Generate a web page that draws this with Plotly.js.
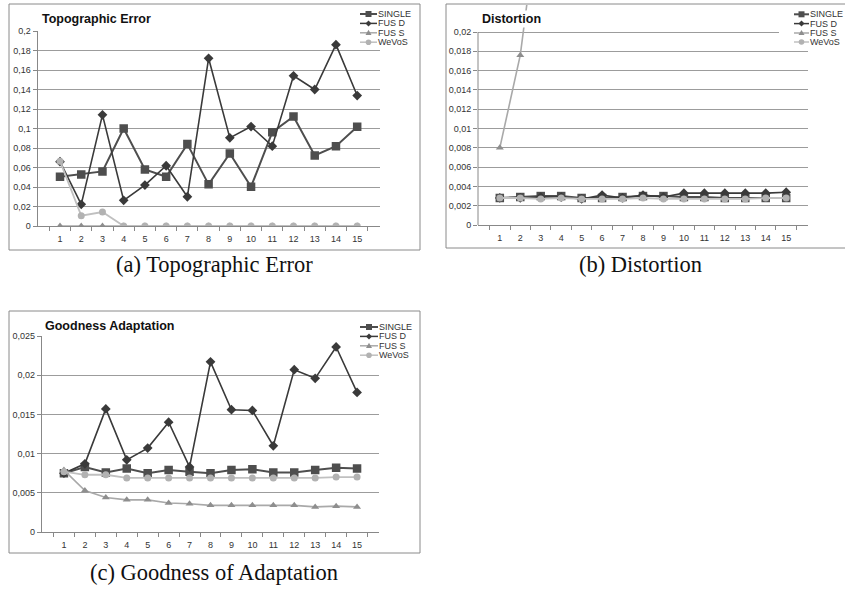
<!DOCTYPE html>
<html>
<head>
<meta charset="utf-8">
<script src="https://cdn.plot.ly/plotly-3.0.1.min.js"></script>
<style>html,body{margin:0;padding:0;background:#fff;}#chart{width:845px;height:591px;}</style>
</head>
<body>
<div id="chart"></div>
<script>
// ---------- DATA ----------
const CATS = ['1','2','3','4','5','6','7','8','9','10','11','12','13','14','15'];
const SERIES_NAMES = ['SINGLE', 'FUS D', 'FUS S', 'WeVoS'];

// (a) Topographic Error
const topo_single = [0.0505, 0.0529, 0.056, 0.100, 0.058, 0.0505, 0.084, 0.0427, 0.0744, 0.0403, 0.0962, 0.1123, 0.0724, 0.0819, 0.1017];
const topo_fusd   = [0.066, 0.0222, 0.114, 0.0263, 0.042, 0.0618, 0.030, 0.172, 0.0904, 0.102, 0.0819, 0.154, 0.140, 0.186, 0.1338];
const topo_fuss   = [0, 0, 0, 0, 0, 0, 0, 0, 0, 0, 0, 0, 0, 0, 0];
const topo_wevos  = [0.0665, 0.0106, 0.0143, 0, 0, 0, 0, 0, 0, 0, 0, 0, 0, 0, 0];

// (b) Distortion
const dist_single = [0.0028, 0.0029, 0.0030, 0.0030, 0.0028, 0.0028, 0.0029, 0.0030, 0.0030, 0.0029, 0.0029, 0.0028, 0.0028, 0.0028, 0.0028];
const dist_fusd   = [0.0028, 0.0028, 0.0029, 0.0029, 0.0027, 0.0031, 0.0028, 0.0031, 0.0029, 0.0033, 0.0033, 0.0033, 0.0033, 0.0033, 0.0034];
const dist_fuss   = [0.008, 0.0176, 0.034, null, null, null, null, null, null, null, null, null, null, null, null];
const dist_wevos  = [0.0028, 0.0028, 0.0027, 0.0028, 0.0027, 0.0027, 0.0027, 0.0028, 0.0027, 0.0027, 0.0027, 0.0027, 0.0027, 0.0028, 0.0028];

// (c) Goodness Adaptation
const good_single = [0.0075, 0.0083, 0.0076, 0.0081, 0.0075, 0.0079, 0.0077, 0.0075, 0.0079, 0.0080, 0.0076, 0.0076, 0.0079, 0.0082, 0.0081];
const good_fusd   = [0.0075, 0.0087, 0.0157, 0.0092, 0.0107, 0.0140, 0.0083, 0.0217, 0.0156, 0.0155, 0.0110, 0.0207, 0.0196, 0.0236, 0.0178];
const good_fuss   = [0.0079, 0.0053, 0.0044, 0.0041, 0.0041, 0.0037, 0.0036, 0.0034, 0.0034, 0.0034, 0.0034, 0.0034, 0.0032, 0.0033, 0.0032];
const good_wevos  = [0.0077, 0.0073, 0.0073, 0.0069, 0.0069, 0.0069, 0.0069, 0.0069, 0.0069, 0.0069, 0.0069, 0.0069, 0.0069, 0.0070, 0.0070];

// tick values / labels
const topo_tickvals = [0, 0.02, 0.04, 0.06, 0.08, 0.1, 0.12, 0.14, 0.16, 0.18, 0.2];
const topo_ticktext = ['0', '0,02', '0,04', '0,06', '0,08', '0,1', '0,12', '0,14', '0,16', '0,18', '0,2'];
const dist_tickvals = [0, 0.002, 0.004, 0.006, 0.008, 0.01, 0.012, 0.014, 0.016, 0.018, 0.02];
const dist_ticktext = ['0', '0,002', '0,004', '0,006', '0,008', '0,01', '0,012', '0,014', '0,016', '0,018', '0,02'];
const good_tickvals = [0, 0.005, 0.01, 0.015, 0.02, 0.025];
const good_ticktext = ['0', '0,005', '0,01', '0,015', '0,02', '0,025'];

const TITLES = ['Topographic Error', 'Distortion', 'Goodness Adaptation'];
const CAPTIONS = ['(a) Topographic Error', '(b) Distortion', '(c) Goodness of Adaptation'];

// ---------- STYLE ----------
const W = 845, H = 591;
const fx = p => p / W;
const fy = p => 1 - p / H;

const STY = [
  {line: '#4e4e4e', marker: '#4e4e4e', symbol: 'square', size: 8.5, width: 2},
  {line: '#3a3a3a', marker: '#3a3a3a', symbol: 'diamond', size: 7.5, width: 1.6},
  {line: '#a9a9a9', marker: '#8e8e8e', symbol: 'triangle-up', size: 7, width: 1.6},
  {line: '#c0c0c0', marker: '#b2b2b2', symbol: 'circle', size: 7, width: 1.8}
];

const panels = [
  {data: [topo_single, topo_fusd, topo_fuss, topo_wevos], xa: 'x', ya: 'y'},
  {data: [dist_single, dist_fusd, dist_fuss, dist_wevos], xa: 'x2', ya: 'y2'},
  {data: [good_single, good_fusd, good_fuss, good_wevos], xa: 'x3', ya: 'y3'}
];

const traces = [];
panels.forEach(p => {
  p.data.forEach((vals, i) => {
    const s = STY[i];
    traces.push({
      type: 'scatter', mode: 'lines+markers',
      x: CATS, y: vals, name: SERIES_NAMES[i],
      xaxis: p.xa, yaxis: p.ya,
      line: {color: s.line, width: s.width},
      marker: {color: s.marker, symbol: s.symbol, size: s.size, line: {width: 0}},
      showlegend: false, connectgaps: false, hoverinfo: 'x+y'
    });
  });
});

const tickFont = {family: 'Liberation Sans, Arial, sans-serif', size: 9, color: '#333'};
function xAxis(d0, d1, anchor) {
  return {
    type: 'category', categoryorder: 'array', categoryarray: CATS,
    domain: [fx(d0), fx(d1)], anchor: anchor,
    tickson: 'boundaries', ticks: 'outside', ticklen: 4, tickcolor: '#888', tickwidth: 1,
    ticklabelstandoff: 4,
    showline: true, linecolor: '#888', linewidth: 1,
    showgrid: false, zeroline: false, tickfont: tickFont, fixedrange: true
  };
}
function yAxis(p0, p1, range, tv, tt, anchor, showline) {
  return {
    domain: [fy(p0), fy(p1)], range: range, anchor: anchor,
    tickmode: 'array', tickvals: tv, ticktext: tt,
    ticks: 'outside', ticklen: 4, tickcolor: '#888', tickwidth: 1,
    showline: showline, linecolor: '#888', linewidth: 1,
    showgrid: true, gridcolor: '#9c9c9c', gridwidth: 1,
    zeroline: false, tickfont: tickFont, fixedrange: true
  };
}

const shapes = [];
const annotations = [];

// chart boxes
[[9, 4, 420, 250], [446, 4, 847, 248], [9, 311, 420, 553]].forEach(b => {
  shapes.push({type: 'rect', xref: 'paper', yref: 'paper', layer: 'above',
    x0: fx(b[0]), x1: fx(b[2]), y0: fy(b[3]), y1: fy(b[1]),
    line: {color: '#8a8a8a', width: 1}, fillcolor: 'rgba(0,0,0,0)'});
});

// y axis line for distortion (stops at top tick)
shapes.push({type: 'line', xref: 'x2 domain', yref: 'y2', layer: 'above',
  x0: 0, x1: 0, y0: 0, y1: 0.02, line: {color: '#888', width: 1}});

// legends
function legend(bg, symX0, symX1, textX, rows) {
  shapes.push({type: 'rect', xref: 'paper', yref: 'paper', layer: 'above',
    x0: fx(bg[0]), x1: fx(bg[2]), y0: fy(bg[3]), y1: fy(bg[1]),
    line: {width: 0}, fillcolor: '#ffffff'});
  rows.forEach((ry, i) => {
    const s = STY[i];
    shapes.push({type: 'line', xref: 'paper', yref: 'paper', layer: 'above',
      x0: fx(symX0), x1: fx(symX1), y0: fy(ry), y1: fy(ry),
      line: {color: s.line, width: i === 0 ? 2 : 1.5}});
    const cx = (symX0 + symX1) / 2;
    let r;
    if (i === 0) {
      r = 3;
      shapes.push({type: 'rect', xref: 'paper', yref: 'paper', layer: 'above',
        x0: fx(cx - r), x1: fx(cx + r), y0: fy(ry + r), y1: fy(ry - r),
        line: {width: 0}, fillcolor: s.marker});
    } else if (i === 1) {
      r = 3;
      shapes.push({type: 'path', xref: 'paper', yref: 'paper', layer: 'above',
        path: `M${fx(cx)},${fy(ry - r)} L${fx(cx + r)},${fy(ry)} L${fx(cx)},${fy(ry + r)} L${fx(cx - r)},${fy(ry)} Z`,
        line: {width: 0}, fillcolor: s.marker});
    } else if (i === 2) {
      r = 3;
      shapes.push({type: 'path', xref: 'paper', yref: 'paper', layer: 'above',
        path: `M${fx(cx)},${fy(ry - r)} L${fx(cx + r)},${fy(ry + r * 0.7)} L${fx(cx - r)},${fy(ry + r * 0.7)} Z`,
        line: {width: 0}, fillcolor: s.marker});
    } else {
      r = 2.8;
      shapes.push({type: 'circle', xref: 'paper', yref: 'paper', layer: 'above',
        x0: fx(cx - r), x1: fx(cx + r), y0: fy(ry + r), y1: fy(ry - r),
        line: {width: 0}, fillcolor: s.marker});
    }
    annotations.push({xref: 'paper', yref: 'paper', x: fx(textX), y: fy(ry),
      xanchor: 'left', yanchor: 'middle', showarrow: false, text: SERIES_NAMES[i],
      borderpad: 0,
      font: {family: 'Liberation Sans, Arial, sans-serif', size: 9, color: '#333'}});
  });
}
legend([353, 7, 418, 48], 360, 377, 377, [14, 23.4, 32.8, 42.2]);
legend([779, 7, 845, 48], 794, 809, 809, [14.3, 23.6, 33, 42]);
legend([353, 318, 418, 360], 360, 378, 378, [327, 336.4, 345.8, 355.2]);

// titles
const titleFont = {family: 'Liberation Sans, Arial, sans-serif', size: 12.5, color: '#111', weight: 'bold'};
[[TITLES[0], 40, 19], [TITLES[1], 480, 19], [TITLES[2], 43, 326]].forEach(t => {
  annotations.push({xref: 'paper', yref: 'paper', x: fx(t[1]), y: fy(t[2]),
    xanchor: 'left', yanchor: 'middle', showarrow: false,
    text: '<b>' + t[0] + '</b>', font: titleFont, bgcolor: '#ffffff', borderpad: 1});
});

// captions
[[CAPTIONS[0], 214, 264], [CAPTIONS[1], 640, 264], [CAPTIONS[2], 214, 572]].forEach(c => {
  annotations.push({xref: 'paper', yref: 'paper', x: fx(c[1]), y: fy(c[2]),
    xanchor: 'center', yanchor: 'middle', showarrow: false, text: c[0],
    font: {family: 'Liberation Serif, Times New Roman, serif', size: 22.5, color: '#111'}});
});

const layout = {
  width: W, height: H,
  margin: {l: 0, r: 0, t: 0, b: 0},
  paper_bgcolor: '#ffffff', plot_bgcolor: '#ffffff',
  showlegend: false,
  separators: ', ',
  xaxis: xAxis(37.6, 379.6, 'y'),
  yaxis: yAxis(226, 31, [0, 0.2], topo_tickvals, topo_ticktext, 'x', true),
  xaxis2: xAxis(478, 808, 'y2'),
  yaxis2: yAxis(225, 5, [0, 0.0228], dist_tickvals, dist_ticktext, 'x2', false),
  xaxis3: xAxis(41.75, 379.25, 'y3'),
  yaxis3: yAxis(532, 336, [0, 0.025], good_tickvals, good_ticktext, 'x3', true),
  shapes: shapes,
  annotations: annotations
};

Plotly.newPlot('chart', traces, layout, {staticPlot: true, displayModeBar: false});
</script>
</body>
</html>
